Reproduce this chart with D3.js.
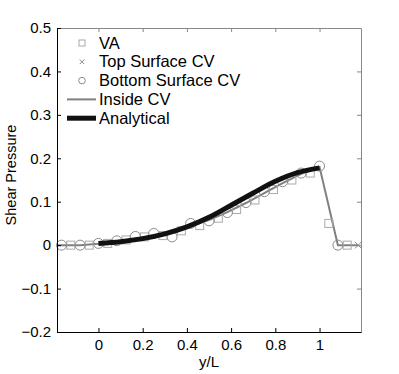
<!DOCTYPE html>
<html>
<head>
<meta charset="utf-8">
<script src="https://cdn.jsdelivr.net/npm/d3@7"></script>
<style>
  body { margin: 0; background: #fff; }
  svg text { font-family: "Liberation Sans", Arial, sans-serif; }
</style>
</head>
<body>
<svg id="chart" width="399" height="374"></svg>
<script>
/* Data */
var xTicks = [0, 0.2, 0.4, 0.6, 0.8, 1];
var yTicks = [-0.2, -0.1, 0, 0.1, 0.2, 0.3, 0.4, 0.5];

// VA (squares), at cell midpoints
var vaX = [-0.125, -0.042, 0.042, 0.125, 0.208, 0.292, 0.375, 0.458, 0.542, 0.625, 0.708, 0.792, 0.875, 0.958, 1.042, 1.125];
var vaY = [0, 0, 0.004, 0.012, 0.019, 0.022, 0.033, 0.045, 0.062, 0.082, 0.104, 0.128, 0.150, 0.166, 0.050, 0];

// Top Surface CV (crosses)
var topX = [1.175];
var topY = [0];

// Bottom Surface CV (circles)
var botX = [-0.167, -0.083, 0, 0.083, 0.167, 0.25, 0.333, 0.417, 0.5, 0.583, 0.667, 0.75, 0.833, 0.917, 1.0, 1.083];
var botY = [0, 0, 0.004, 0.010, 0.020, 0.027, 0.019, 0.050, 0.056, 0.075, 0.098, 0.123, 0.146, 0.166, 0.182, 0];

// Inside CV (grey line)
var insideX = [-0.1875, -0.167, -0.083, 0, 0.083, 0.167, 0.25, 0.333, 0.417, 0.5, 0.583, 0.667, 0.75, 0.833, 0.917, 1.0, 1.083, 1.175];
var insideY = [0, 0, 0, 0.003, 0.008, 0.015, 0.022, 0.030, 0.044, 0.058, 0.076, 0.097, 0.120, 0.143, 0.164, 0.180, 0, 0];

// Analytical (thick black)
var anaX = [0, 0.1, 0.2, 0.3, 0.4, 0.5, 0.6, 0.7, 0.8, 0.9, 1.0];
var anaY = [0.004, 0.008, 0.015, 0.026, 0.042, 0.064, 0.092, 0.120, 0.147, 0.167, 0.178];

/* Layout */
var svg = d3.select("#chart");
var plotLeft = 57, plotRight = 361, plotTop = 28, plotBottom = 332;

var x = d3.scaleLinear().domain([-0.1875, 1.1875]).range([plotLeft, plotRight]);
var y = d3.scaleLinear().domain([-0.2, 0.5]).range([plotBottom, plotTop]);

function zip(xs, ys){
  return xs.map(function(v, i){ return [v, ys[i]]; });
}

var line = d3.line()
  .x(function(d){ return x(d[0]); })
  .y(function(d){ return y(d[1]); });

// series
svg.append("path")
  .datum(zip(insideX, insideY))
  .attr("d", line)
  .attr("fill", "none")
  .attr("stroke", "#808080")
  .attr("stroke-width", 2);

svg.append("g").selectAll("rect")
  .data(zip(vaX, vaY))
  .enter().append("rect")
  .attr("x", function(d){ return x(d[0]) - 4; })
  .attr("y", function(d){ return y(d[1]) - 4; })
  .attr("width", 8).attr("height", 8)
  .attr("fill", "none")
  .attr("stroke", "#aaa")
  .attr("stroke-width", 1);

svg.append("g").selectAll("circle")
  .data(zip(botX, botY))
  .enter().append("circle")
  .attr("cx", function(d){ return x(d[0]); })
  .attr("cy", function(d){ return y(d[1]); })
  .attr("r", 5)
  .attr("fill", "none")
  .attr("stroke", "#8c8c8c")
  .attr("stroke-width", 1);

var cross = d3.symbol().type(d3.symbolX).size(30);
svg.append("g").selectAll("path")
  .data(zip(topX, topY))
  .enter().append("path")
  .attr("d", cross)
  .attr("transform", function(d){ return "translate(" + x(d[0]) + "," + y(d[1]) + ")"; })
  .attr("fill", "none")
  .attr("stroke", "#888")
  .attr("stroke-width", 1);

svg.append("path")
  .datum(zip(anaX, anaY))
  .attr("d", line.curve(d3.curveMonotoneX))
  .attr("fill", "none")
  .attr("stroke", "#111")
  .attr("stroke-width", 5);

/* Axes box with inward ticks */
var bottomAxis = d3.axisBottom(x).tickValues(xTicks).tickSizeInner(-4).tickSizeOuter(0).tickPadding(7)
  .tickFormat(function(d){ return d3.format("")(d); });
var leftAxis = d3.axisLeft(y).tickValues(yTicks).tickSizeInner(-4).tickSizeOuter(0).tickPadding(6)
  .tickFormat(function(d){ return d === 0 ? "0" : d3.format(".1f")(d); });

var topAxis = d3.axisTop(x).tickValues(xTicks).tickSizeInner(-4).tickSizeOuter(0).tickFormat("");
var rightAxis = d3.axisRight(y).tickValues(yTicks).tickSizeInner(-4).tickSizeOuter(0).tickFormat("");

svg.append("g").attr("transform", "translate(0," + plotTop + ")").call(topAxis)
  .call(function(g){ g.selectAll("line,path").attr("stroke", "#888"); });
svg.append("g").attr("transform", "translate(" + plotRight + ",0)").call(rightAxis)
  .call(function(g){ g.selectAll("line,path").attr("stroke", "#888"); });

svg.append("g").attr("transform", "translate(0," + plotBottom + ")").call(bottomAxis)
  .call(function(g){ g.selectAll("text").attr("font-size", 15).attr("fill", "#000"); });
svg.append("g").attr("transform", "translate(" + plotLeft + ",0)").call(leftAxis)
  .call(function(g){ g.selectAll("text").attr("font-size", 15).attr("fill", "#000"); });

// axis titles
svg.append("text")
  .attr("x", x(0.5)).attr("y", 367)
  .attr("text-anchor", "middle")
  .attr("font-size", 15)
  .text("y/L");

svg.append("text")
  .attr("transform", "translate(16,175) rotate(-90)")
  .attr("text-anchor", "middle")
  .attr("font-size", 14.5)
  .text("Shear Pressure");

/* Legend */
var legendNames = ["VA", "Top Surface CV", "Bottom Surface CV", "Inside CV", "Analytical"];
var legend = svg.append("g");
legendNames.forEach(function(name, i){
  var ly = 43 + i * 18.8;
  var g = legend.append("g");
  if (i === 0){
    g.append("rect").attr("x", 79).attr("y", ly - 3).attr("width", 6).attr("height", 6)
      .attr("fill", "none").attr("stroke", "#aaa");
  } else if (i === 1){
    g.append("path").attr("d", d3.symbol().type(d3.symbolX).size(16)())
      .attr("transform", "translate(82," + ly + ")")
      .attr("fill", "none").attr("stroke", "#888");
  } else if (i === 2){
    g.append("circle").attr("cx", 82).attr("cy", ly).attr("r", 3.3)
      .attr("fill", "none").attr("stroke", "#8c8c8c");
  } else if (i === 3){
    g.append("line").attr("x1", 67).attr("x2", 96).attr("y1", ly).attr("y2", ly)
      .attr("stroke", "#808080").attr("stroke-width", 2);
  } else {
    g.append("line").attr("x1", 67).attr("x2", 96).attr("y1", ly).attr("y2", ly)
      .attr("stroke", "#111").attr("stroke-width", 5);
  }
  g.append("text").attr("x", 99).attr("y", ly + 5.5)
    .attr("font-size", 16.5).text(name);
});
</script>
</body>
</html>
